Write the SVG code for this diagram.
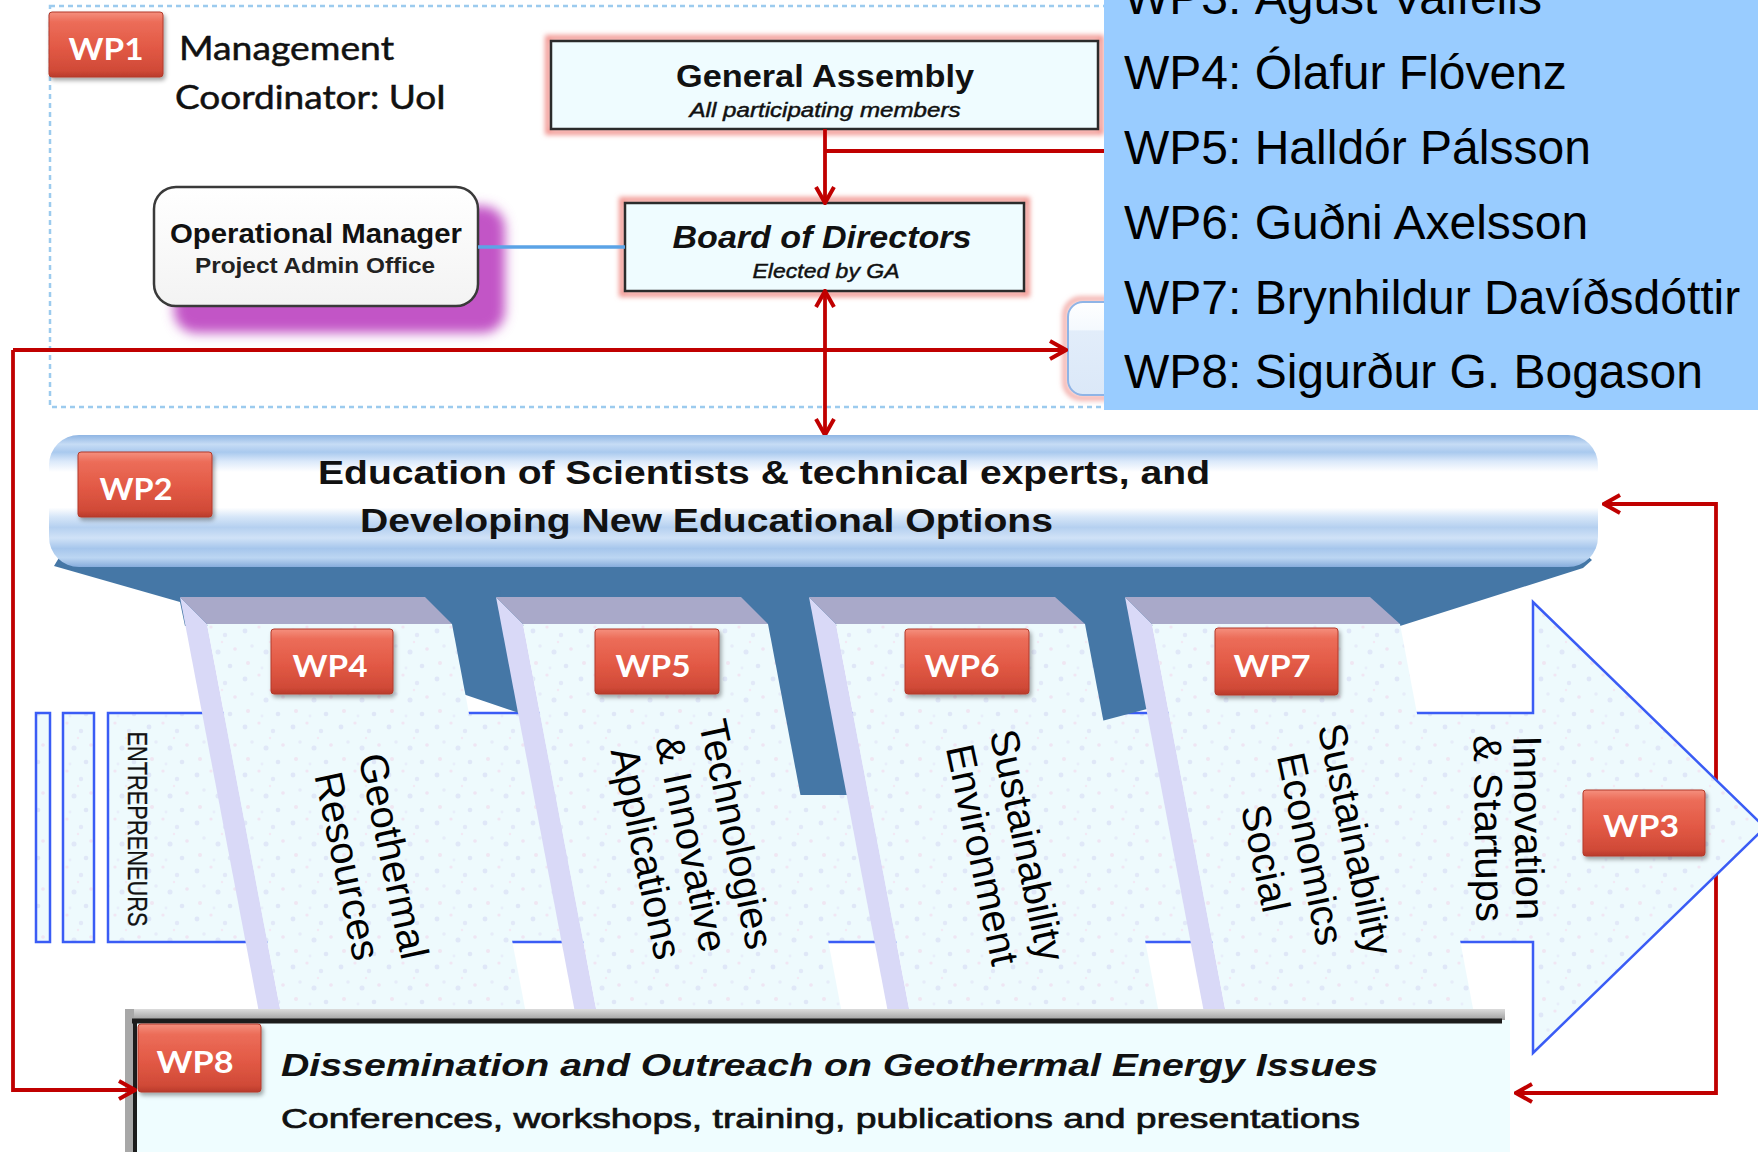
<svg xmlns="http://www.w3.org/2000/svg" width="1758" height="1152" viewBox="0 0 1758 1152">
<defs>
<style>
.sans{font-family:"Liberation Sans",Arial,sans-serif;}
.cal{font-family:Lato,"Open Sans",sans-serif;}
.red{stroke:#c00000;stroke-width:3.8;fill:none;}
.badge{fill:url(#badgeG);stroke:#b23a2b;stroke-width:1;filter:url(#sh);}
.btxt{font-family:Lato,"Open Sans",sans-serif;font-weight:bold;font-size:31px;fill:#fff;text-anchor:middle;}
.col{font-family:"Liberation Sans",Arial,sans-serif;font-size:40px;fill:#000;text-anchor:middle;}
.names{font-family:"Liberation Sans",Arial,sans-serif;font-size:48px;fill:#000;}
.sub{stroke:#111;stroke-width:0.45;}
.strip{fill:#d9d9f7;}
.topf{fill:#a9a9c9;}
.face{fill:url(#speck);}
.dark{fill:#4577a6;}
</style>
<linearGradient id="badgeG" x1="0" y1="0" x2="0" y2="1">
<stop offset="0" stop-color="#f5907e"/>
<stop offset="0.15" stop-color="#ec6d59"/>
<stop offset="0.55" stop-color="#e25945"/>
<stop offset="0.9" stop-color="#d04a37"/>
<stop offset="1" stop-color="#b93b2b"/>
</linearGradient>
<linearGradient id="bannerG" x1="0" y1="0" x2="0" y2="1">
<stop offset="0" stop-color="#8fb5e3"/>
<stop offset="0.07" stop-color="#c6dcf5"/>
<stop offset="0.13" stop-color="#a9c9ee"/>
<stop offset="0.2" stop-color="#dbe9fa"/>
<stop offset="0.28" stop-color="#ffffff"/>
<stop offset="0.55" stop-color="#ffffff"/>
<stop offset="0.62" stop-color="#d6e6f8"/>
<stop offset="0.7" stop-color="#b5d0f0"/>
<stop offset="0.78" stop-color="#d0e2f7"/>
<stop offset="0.86" stop-color="#a6c6ec"/>
<stop offset="0.93" stop-color="#bcd6f2"/>
<stop offset="1" stop-color="#86acdc"/>
</linearGradient>
<linearGradient id="omG" x1="0" y1="0" x2="0" y2="1">
<stop offset="0" stop-color="#ffffff"/>
<stop offset="1" stop-color="#f3f3f3"/>
</linearGradient>
<linearGradient id="hidG" x1="0" y1="0" x2="0" y2="1">
<stop offset="0" stop-color="#ffffff"/>
<stop offset="0.3" stop-color="#f4f9fe"/>
<stop offset="0.31" stop-color="#e2edfa"/>
<stop offset="1" stop-color="#dbe8f8"/>
</linearGradient>
<linearGradient id="grayG" x1="0" y1="0" x2="0" y2="1">
<stop offset="0" stop-color="#dcdcdc"/>
<stop offset="1" stop-color="#999999"/>
</linearGradient>
<pattern id="speck" width="48" height="48" patternUnits="userSpaceOnUse">
<rect width="48" height="48" fill="#eefafd"/>
<circle cx="5" cy="7" r="2.4" fill="#dfe7f8"/>
<circle cx="19" cy="3" r="1.6" fill="#f1e6f3"/>
<circle cx="33" cy="11" r="2.2" fill="#e2e9f8"/>
<circle cx="43" cy="25" r="1.8" fill="#efe5f3"/>
<circle cx="12" cy="22" r="1.7" fill="#e6ecf9"/>
<circle cx="26" cy="28" r="2.5" fill="#e0e8f8"/>
<circle cx="8" cy="39" r="2" fill="#f0e6f2"/>
<circle cx="38" cy="42" r="2.3" fill="#dfe7f7"/>
<circle cx="22" cy="44" r="1.4" fill="#e8eefa"/>
<circle cx="30" cy="18" r="1.2" fill="#f3e9f4"/>
</pattern>
<filter id="sh" x="-20%" y="-20%" width="140%" height="160%">
<feDropShadow dx="2" dy="3" stdDeviation="2" flood-color="#000" flood-opacity="0.35"/>
</filter>
<filter id="blur" x="-20%" y="-20%" width="140%" height="140%">
<feGaussianBlur stdDeviation="6"/>
</filter>
<filter id="glow" x="-10%" y="-20%" width="120%" height="140%">
<feGaussianBlur stdDeviation="2.5"/>
</filter>
<marker id="arr" viewBox="0 0 20 22" refX="18" refY="11" markerWidth="20" markerHeight="22" markerUnits="userSpaceOnUse" orient="auto">
<path d="M2,2 L18,11 L2,20" fill="none" stroke="#c00000" stroke-width="4"/>
</marker>
</defs>

<rect width="1758" height="1152" fill="#ffffff"/>

<g id="wp1-frame">
<rect x="50" y="6" width="1090" height="401" fill="none" stroke="#9ccbee" stroke-width="2.5" stroke-dasharray="5 4"/>
<rect class="badge" x="49" y="12" width="114" height="65" rx="3"/>
<text class="btxt" x="106" y="60" font-size="34" textLength="75" lengthAdjust="spacingAndGlyphs">WP1</text>
<text class="cal" x="179" y="60" font-size="32" fill="#111" stroke="#111" stroke-width="0.5" textLength="215" lengthAdjust="spacingAndGlyphs">Management</text>
<text class="cal" x="175" y="109" font-size="32" fill="#111" stroke="#111" stroke-width="0.5" textLength="271" lengthAdjust="spacingAndGlyphs">Coordinator: UoI</text>
</g>

<g id="operational-manager">
<rect x="174" y="206" width="331" height="127" rx="22" fill="#c255c6" filter="url(#blur)"/>
<rect x="154" y="187" width="324" height="119" rx="22" fill="url(#omG)" stroke="#3a3a3a" stroke-width="2.5"/>
<text class="sans" x="316" y="243" font-size="28" font-weight="bold" fill="#111" text-anchor="middle" textLength="292" lengthAdjust="spacingAndGlyphs">Operational Manager</text>
<text class="sans" x="315" y="273" font-size="22" font-weight="bold" fill="#222" text-anchor="middle" textLength="240" lengthAdjust="spacingAndGlyphs">Project Admin Office</text>
</g>

<g id="general-assembly">
<rect x="548" y="38" width="553" height="94" fill="none" stroke="#f29a94" stroke-width="6" filter="url(#glow)"/>
<rect x="551" y="41" width="547" height="88" fill="#effcff" stroke="#2b2b2b" stroke-width="2.5"/>
<text class="sans" x="825" y="87" font-size="31" font-weight="bold" fill="#111" text-anchor="middle" textLength="298" lengthAdjust="spacingAndGlyphs">General Assembly</text>
<text class="sans sub" x="825" y="117" font-size="20" font-style="italic" fill="#111" text-anchor="middle" textLength="271" lengthAdjust="spacingAndGlyphs">All participating members</text>
</g>

<g id="board-of-directors">
<rect x="622" y="200" width="405" height="94" fill="none" stroke="#f29a94" stroke-width="6" filter="url(#glow)"/>
<rect x="625" y="203" width="399" height="88" fill="#effcff" stroke="#2b2b2b" stroke-width="2.5"/>
<text class="sans" x="822" y="248" font-size="31" font-weight="bold" font-style="italic" fill="#111" text-anchor="middle" textLength="299" lengthAdjust="spacingAndGlyphs">Board of Directors</text>
<text class="sans sub" x="826" y="278" font-size="20" font-style="italic" fill="#111" text-anchor="middle" textLength="147" lengthAdjust="spacingAndGlyphs">Elected by GA</text>
</g>

<g id="hidden-box">
<rect x="1065" y="299" width="100" height="99" rx="16" fill="none" stroke="#f2a8a4" stroke-width="5" filter="url(#glow)"/>
<rect x="1068" y="302" width="100" height="93" rx="15" fill="url(#hidG)" stroke="#8fb4e6" stroke-width="2"/>
</g>

<g id="connectors-top">
<line x1="478" y1="247" x2="625" y2="247" stroke="#5ba3e6" stroke-width="3.5"/>
<path class="red" d="M825,129 L825,203" marker-end="url(#arr)"/>
<path class="red" d="M825,151 L1110,151"/>
<path class="red" d="M825,360 L825,291" marker-end="url(#arr)"/>
<path class="red" d="M825,360 L825,435" marker-end="url(#arr)"/>
<path class="red" d="M13,350 L1066,350" marker-end="url(#arr)"/>
<path class="red" d="M1716,800 L1716,504 L1604,504" marker-end="url(#arr)"/>
<path class="red" d="M1716,800 L1716,1093 L1516,1093" marker-end="url(#arr)"/>
</g>

<g id="wp3-arrow">
<rect x="36" y="713" width="14" height="229" fill="url(#speck)" stroke="#3a5cf5" stroke-width="2.5"/>
<rect x="63" y="713" width="31" height="229" fill="url(#speck)" stroke="#3a5cf5" stroke-width="2.5"/>
<path d="M108,713 L1533,713 L1533,602 L1765,827.5 L1533,1053 L1533,942 L108,942 Z" fill="url(#speck)" stroke="#3a5cf5" stroke-width="2.5"/>
</g>

<g id="wp2-base">
<polygon class="dark" points="75,545 1575,545 1592,560 1583,568 1400,626 185,626 180,602 54,566 60,556"/>
<polygon class="dark" points="415,590 500,590 519,713 460,693"/>
<polygon class="dark" points="735,590 815,590 848,795 795,795"/>
<polygon class="dark" points="1050,590 1128,590 1147,709 1098,722"/>
</g>

<g id="wp4">
<polygon class="strip" points="180,597 207,624 282.2,1020 260.4,1020"/>
<polygon class="topf" points="180,597 425,597 452,624 207,624"/>
<polygon class="face" points="207,624 452,624 527.2,1020 282.2,1020"/>
<rect class="badge" x="271" y="629" width="122" height="65" rx="3"/>
<text class="btxt" x="330" y="677" textLength="75" lengthAdjust="spacingAndGlyphs">WP4</text>
<g transform="translate(380,859) rotate(78)">
<text class="col" x="0" y="0">Geothermal</text>
<text class="col" x="0" y="47">Resources</text>
</g>
</g>

<g id="wp5">
<polygon class="strip" points="496,597 523,624 598.2,1020 576.4,1020"/>
<polygon class="topf" points="496,597 741,597 768,624 523,624"/>
<polygon class="face" points="523,624 768,624 843.2,1020 598.2,1020"/>
<rect class="badge" x="595" y="629" width="124" height="65" rx="3"/>
<text class="btxt" x="653" y="677" textLength="75" lengthAdjust="spacingAndGlyphs">WP5</text>
<g transform="translate(723,837) rotate(78)">
<text class="col" x="0" y="0">Technologies</text>
<text class="col" x="0" y="46">&amp; Innovative</text>
<text class="col" x="0" y="92">Applications</text>
</g>
</g>

<g id="wp6">
<polygon class="strip" points="809,597 836,624 911.2,1020 889.4,1020"/>
<polygon class="topf" points="809,597 1055,597 1085,624 836,624"/>
<polygon class="face" points="836,624 1085,624 1160.2,1020 911.2,1020"/>
<rect class="badge" x="905" y="629" width="124" height="65" rx="3"/>
<text class="btxt" x="962" y="677" textLength="75" lengthAdjust="spacingAndGlyphs">WP6</text>
<g transform="translate(1014,848) rotate(78)">
<text class="col" x="0" y="0">Sustainability</text>
<text class="col" x="0" y="46">Environment</text>
</g>
</g>

<g id="wp7">
<polygon class="strip" points="1125,597 1152,624 1227.2,1020 1205.4,1020"/>
<polygon class="topf" points="1125,597 1370,597 1400,624 1152,624"/>
<polygon class="face" points="1152,624 1400,624 1475.2,1020 1227.2,1020"/>
<rect class="badge" x="1215" y="628" width="123" height="67" rx="3"/>
<text class="btxt" x="1272" y="677" textLength="77" lengthAdjust="spacingAndGlyphs">WP7</text>
<g transform="translate(1342,842) rotate(78)">
<text class="col" x="0" y="0">Sustainability</text>
<text class="col" x="0" y="46">Economics</text>
<text class="col" x="0" y="92">Social</text>
</g>
</g>

<g id="wp3">
<rect class="badge" x="1583" y="790" width="122" height="66" rx="3"/>
<text class="btxt" x="1641" y="837" textLength="76" lengthAdjust="spacingAndGlyphs">WP3</text>
<g transform="translate(1515,828) rotate(89)">
<text class="col" x="0" y="0" font-size="36">Innovation</text>
<text class="col" x="0" y="40" font-size="36">&amp; Startups</text>
</g>
<text class="sans" transform="translate(128,829) rotate(90)" x="0" y="0" font-size="27" fill="#111" stroke="#111" stroke-width="0.3" text-anchor="middle" textLength="195" lengthAdjust="spacingAndGlyphs">ENTREPRENEURS</text>
</g>

<g id="wp2">
<rect x="49" y="435" width="1549" height="132" rx="30" fill="url(#bannerG)"/>
<rect class="badge" x="78" y="452" width="134" height="65" rx="3"/>
<text class="btxt" x="136" y="500" textLength="73" lengthAdjust="spacingAndGlyphs">WP2</text>
<text class="sans" x="318" y="484" font-size="34" font-weight="bold" fill="#111" textLength="892" lengthAdjust="spacingAndGlyphs">Education of Scientists &amp; technical experts, and</text>
<text class="sans" x="360" y="532" font-size="34" font-weight="bold" fill="#111" textLength="693" lengthAdjust="spacingAndGlyphs">Developing New Educational Options</text>
</g>

<g id="wp8">
<rect x="125" y="1009" width="1380" height="12" fill="url(#grayG)"/>
<rect x="125" y="1009" width="9" height="143" fill="#a8a8a8"/>
<rect x="134" y="1020" width="1376" height="140" fill="#effdff"/>
<line x1="132" y1="1021" x2="1502" y2="1021" stroke="#1c1c1c" stroke-width="5"/>
<line x1="135" y1="1019" x2="135" y2="1152" stroke="#1c1c1c" stroke-width="4"/>
<rect class="badge" x="138" y="1024" width="123" height="68" rx="3"/>
<text class="btxt" x="195" y="1073" textLength="77" lengthAdjust="spacingAndGlyphs">WP8</text>
<text class="sans" x="281" y="1076" font-size="31" font-weight="bold" font-style="italic" fill="#111" textLength="1097" lengthAdjust="spacingAndGlyphs">Dissemination and Outreach on Geothermal Energy Issues</text>
<text class="sans" x="281" y="1128" font-size="27" fill="#111" stroke="#111" stroke-width="0.7" textLength="1079" lengthAdjust="spacingAndGlyphs">Conferences, workshops, training, publications and presentations</text>
</g>

<g id="connectors-left">
<path class="red" d="M13,350 L13,1090 L135,1090" marker-end="url(#arr)"/>
</g>

<g id="leaders-panel">
<rect x="1104" y="0" width="654" height="410" fill="#99ccff"/>
<text class="names" x="1124" y="14">WP3: Ágúst Valfells</text>
<text class="names" x="1124" y="89">WP4: Ólafur Flóvenz</text>
<text class="names" x="1124" y="164">WP5: Halldór Pálsson</text>
<text class="names" x="1124" y="239">WP6: Guðni Axelsson</text>
<text class="names" x="1124" y="314">WP7: Brynhildur Davíðsdóttir</text>
<text class="names" x="1124" y="388">WP8: Sigurður G. Bogason</text>
</g>
</svg>
